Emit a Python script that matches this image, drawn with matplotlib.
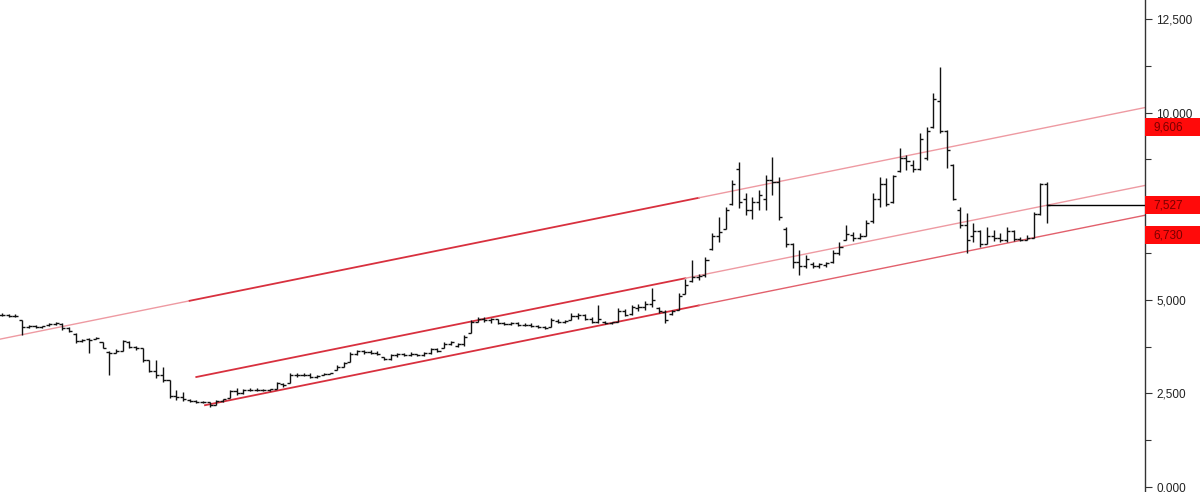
import matplotlib
matplotlib.use("Agg")
import matplotlib.pyplot as plt
from matplotlib.collections import LineCollection
from matplotlib.patches import Rectangle
from matplotlib.ticker import MultipleLocator, FuncFormatter
import matplotlib.transforms as mtransforms

plt.rcParams['font.family'] = ['Liberation Sans', 'DejaVu Sans']

opens = [4600,4590,4570,4450,4270,4290,4280,4320,4350,4360,4250,4100,3900,3950,3960,3860,3600,3580,3640,3880,
         3740,3700,3380,3100,3000,2850,2420,2400,2330,2290,2280,2260,2190,2290,2380,2560,2500,2580,2600,2590,
         2600,2630,2760,2790,3000,3000,2990,2930,3000,3030,3130,3200,3340,3550,3620,3600,3580,3460,3420,3520,
         3540,3520,3550,3520,3580,3680,3700,3820,3760,3820,4120,4400,4480,4450,4480,4380,4350,4380,4340,4330,
         4300,4270,4280,4440,4420,4460,4560,4600,4480,4420,4420,4380,4420,4700,4620,4780,4800,4900,4780,4680,
         4620,4730,5150,5500,5620,5650,6350,6700,6900,7550,8500,7700,7400,7600,7700,8200,8150,6900,6500,6000,
         5900,5950,5900,5940,6000,6250,6600,6720,6650,6700,7100,7700,8100,7600,8450,8800,8600,8500,8800,9620,
         10300,9500,8600,7400,7000,6700,6850,6500,6700,6650,6600,6850,6620,6600,6650,7300,8100]
highs = [4640,4620,4610,4460,4330,4320,4310,4370,4400,4380,4270,4110,3960,3990,4010,3870,3620,3680,3930,3900,
         3760,3710,3390,3390,3200,2860,2590,2550,2340,2320,2300,2270,2320,2360,2600,2640,2620,2640,2640,2620,
         2630,2800,2790,3040,3050,3040,3050,3000,3050,3050,3260,3340,3600,3660,3660,3650,3620,3480,3560,3570,
         3590,3600,3560,3600,3710,3710,3870,3900,3850,4060,4460,4540,4540,4510,4500,4420,4400,4400,4380,4370,
         4340,4300,4510,4480,4470,4650,4650,4620,4540,4860,4430,4420,4780,4760,4860,4880,4980,5310,4800,4730,
         4730,5180,5550,6060,5700,6140,6780,7210,7480,8200,8680,7850,7750,7930,8330,8810,8280,6940,6520,6330,
         6200,6000,5980,6000,6330,6550,7000,6800,6780,7130,7850,8280,8260,8330,9050,8870,8730,9450,9620,10520,
         11220,9530,8620,7480,7320,7050,6860,6940,6860,6780,6940,6860,6680,6720,7350,8120,8150]
lows = [4560,4550,4530,4060,4240,4250,4260,4310,4330,4200,4140,3850,3880,3580,3940,3710,2990,3570,3630,3700,
        3660,3340,3070,2910,2800,2380,2320,2300,2260,2250,2240,2140,2180,2270,2370,2450,2480,2560,2560,2560,
        2560,2620,2680,2780,2950,2960,2900,2900,2990,3010,3125,3200,3340,3530,3560,3540,3530,3390,3400,3480,
        3490,3510,3500,3510,3560,3600,3700,3780,3740,3760,4110,4400,4420,4380,4350,4330,4320,4300,4300,4280,
        4250,4230,4270,4380,4380,4460,4480,4460,4380,4380,4360,4360,4410,4560,4600,4700,4740,4800,4650,4380,
        4600,4730,5150,5480,5530,5610,6330,6540,6900,7530,7450,7260,7150,7400,7400,7800,7130,6410,5850,5660,
        5850,5850,5860,5880,5980,6200,6600,6580,6620,6700,7050,7480,7500,7590,8410,8460,8410,8470,8730,9600,
        9450,8520,7670,6920,6250,6550,6410,6480,6560,6540,6540,6560,6560,6590,6650,7260,7060]
closes = [4590,4570,4580,4270,4290,4280,4300,4350,4370,4250,4160,3900,3930,3920,3990,3720,3570,3640,3900,3740,
          3700,3400,3100,3000,2850,2420,2400,2340,2290,2280,2270,2180,2290,2340,2560,2500,2580,2600,2590,2600,
          2620,2770,2720,3000,3000,2990,2930,2960,3030,3040,3200,3300,3550,3620,3600,3580,3560,3420,3520,3540,
          3520,3560,3520,3580,3680,3640,3820,3860,3820,4000,4400,4480,4450,4480,4380,4350,4380,4340,4330,4300,
          4270,4250,4450,4420,4430,4560,4600,4500,4420,4500,4380,4400,4700,4600,4800,4820,4900,5000,4700,4450,
          4700,5100,5400,5620,5640,6050,6700,6800,7400,8100,7600,7400,7600,7800,8200,8150,7200,6500,6000,5900,
          6100,5900,5950,5980,6250,6400,6750,6650,6700,7050,7700,8100,7550,8300,8800,8700,8500,9300,9500,10350,
          9500,9000,7700,7000,6600,6850,6500,6700,6650,6600,6850,6620,6600,6650,7300,8100,7527]

# channel lines: (start index, value at start, end index, value at end, dark segment end index)
upper_line = (0, 3960, 156, 9606)
middle_line = (29, 2938, 156, 7527)
lower_line = (30.3, 2185, 156, 6730)
label_values = [9606, 7527, 6730]

n = len(closes)
W, H = 1200, 492
fig = plt.figure(figsize=(W/100, H/100), dpi=100)
ax = fig.add_axes([0, 0, 1145/1200, 1])

xmin, xmax = -0.3, 170.6
ax.set_xlim(xmin, xmax)
ax.set_ylim(-133, 13007)

def line_val(line, x):
    x0, y0, x1, y1 = line
    return y0 + (y1 - y0) * (x - x0) / (x1 - x0)

light = '#ee9aa2'
dark = '#d8303e'
# upper line
ax.plot([xmin, 28], [line_val(upper_line, xmin), line_val(upper_line, 28)], color=light, lw=1.0)
ax.plot([28, 104], [line_val(upper_line, 28), line_val(upper_line, 104)], color=dark, lw=1.3)
ax.plot([104, xmax], [line_val(upper_line, 104), line_val(upper_line, xmax)], color=light, lw=1.0)
# middle line
ax.plot([29, 102], [line_val(middle_line, 29), line_val(middle_line, 102)], color=dark, lw=1.3)
ax.plot([102, xmax], [line_val(middle_line, 102), line_val(middle_line, xmax)], color=light, lw=1.0)
# lower line
ax.plot([30.3, 104], [line_val(lower_line, 30.3), line_val(lower_line, 104)], color=dark, lw=1.3)
ax.plot([104, xmax], [line_val(lower_line, 104), line_val(lower_line, xmax)], color='#e2606c', lw=1.0)

# OHLC bars
segs = []
tick = 0.45
for i in range(n):
    segs.append([(i, lows[i]), (i, highs[i])])
    segs.append([(i - tick, opens[i]), (i, opens[i])])
    segs.append([(i, closes[i]), (i + tick, closes[i])])
ax.add_collection(LineCollection(segs, colors='#111111', linewidths=1.0))

# last price line
ax.plot([n - 1, xmax], [closes[-1], closes[-1]], color='black', lw=1.0, clip_on=False)

for s in ['top', 'left', 'bottom']:
    ax.spines[s].set_visible(False)
ax.spines['right'].set_color('#333333')
ax.spines['right'].set_linewidth(1.0)
ax.set_xticks([])
ax.yaxis.tick_right()
ax.yaxis.set_major_locator(MultipleLocator(2500))
ax.yaxis.set_minor_locator(MultipleLocator(1250))
ax.yaxis.set_major_formatter(FuncFormatter(lambda v, p: f"{v/1000:.3f}".replace('.', ',')))
ax.tick_params(axis='y', which='major', length=5, width=0.8, colors='#333333', labelsize=8.5, pad=3, labelcolor='#222222')
ax.tick_params(axis='y', which='minor', length=4, width=0.8, colors='#333333')

trans = mtransforms.blended_transform_factory(ax.transAxes, ax.transData)
for v in label_values:
    rect = Rectangle((1.0, v - 240), 0.07, 480, transform=trans, facecolor='#ff0a0a',
                     edgecolor='none', clip_on=False, zorder=5)
    ax.add_patch(rect)
    ax.text(1.0 + 8/1145, v, f"{v/1000:.3f}".replace('.', ','), transform=trans, va='center', ha='left',
            fontsize=8.5, color='#7a0000', zorder=6, clip_on=False)

fig.savefig('out.png', dpi=100)
